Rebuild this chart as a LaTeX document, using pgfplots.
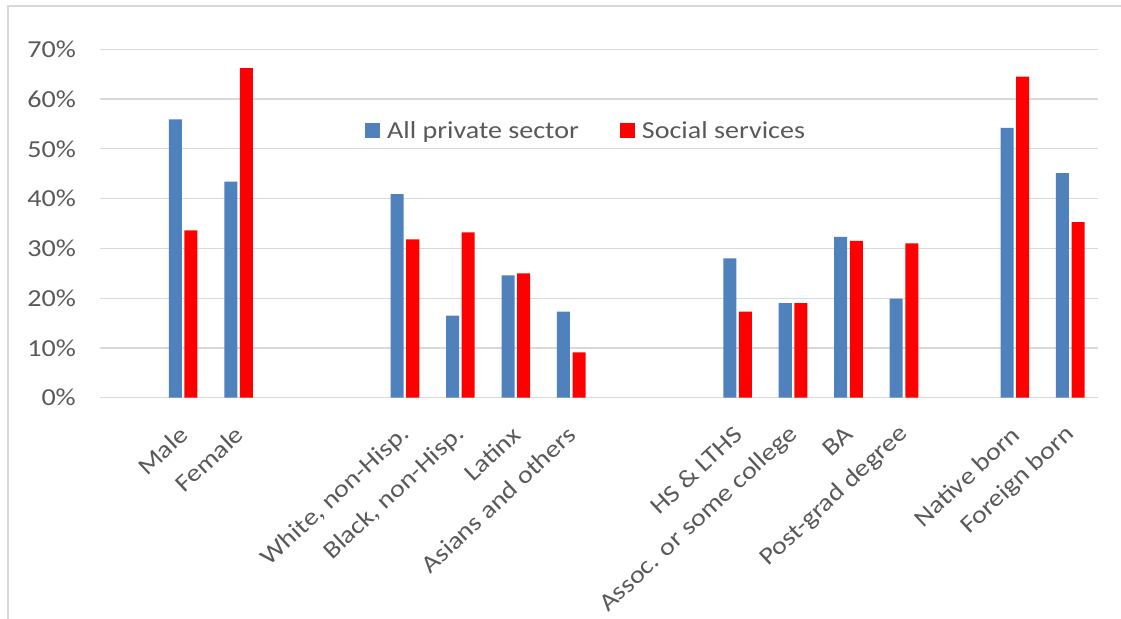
\documentclass[border=0pt]{standalone}
\usepackage{fontspec}
\setmainfont{Carlito}[FakeStretch=1.15]
\usepackage{pgfplots}
\pgfplotsset{compat=1.18}
\definecolor{cblue}{HTML}{4F81BD}
\definecolor{cred}{HTML}{FF0000}
\definecolor{ctext}{HTML}{595959}
\definecolor{cgrid}{HTML}{D9D9D9}
\newcommand{\cfont}{\fontsize{24.4bp}{29bp}\selectfont}
\begin{document}
\begin{tikzpicture}
\path[use as bounding box] (0bp,0bp) rectangle (1121bp,619bp);
\draw[color=cgrid, line width=2bp] (8bp,-5bp) -- (8bp,613bp) -- (1130bp,613bp);
\begin{axis}[
  at={(100bp,221.3bp)}, anchor=south west,
  scale only axis, width=998bp, height=348.4bp,
  ymin=0, ymax=70, xmin=-1.5, xmax=16.5,
  ybar, bar width=0.235,
  axis line style={draw=none},
  major tick length=0pt,
  ymajorgrids, grid style={cgrid, line width=1.2bp},
  ytick={0,10,...,70},
  /pgf/number format/assume math mode=true,
  yticklabel={\pgfmathprintnumber{\tick}\%},
  yticklabel style={inner sep=0pt, xshift=-24bp},
  xtick={0,1,4,5,6,7,10,11,12,13,15,16},
  xticklabels={Male, Female, {White, non-Hisp.}, {Black, non-Hisp.}, Latinx, Asians and others, HS \& LTHS, Assoc. or some college, BA, Post-grad degree, Native born, Foreign born},
  xticklabel style={xshift=1bp, yshift=-33bp, rotate=43, anchor=east, inner sep=0pt},
  tick label style={font=\cfont, text=ctext},
  legend style={at={(0.2655,0.766)}, anchor=west, draw=none, fill=none,
    font=\cfont, text=ctext, inner sep=0pt,
    /tikz/every odd column/.append style={column sep=5bp},
    /tikz/every even column/.append style={column sep=39bp}},
  legend columns=2,
  legend cell align=left,
  legend image code/.code={\fill[#1] (0bp,-7.5bp) rectangle (15bp,7.5bp);},
]
\addplot[fill=cblue, draw=none, bar shift=-0.141] coordinates {
 (0,55.9) (1,43.4) (4,40.9) (5,16.5) (6,24.6) (7,17.3)
 (10,28.0) (11,19.0) (12,32.3) (13,19.9) (15,54.2) (16,45.1)};
\addplot[fill=cred, draw=none, bar shift=0.141] coordinates {
 (0,33.6) (1,66.2) (4,31.8) (5,33.2) (6,25.0) (7,9.1)
 (10,17.3) (11,19.0) (12,31.5) (13,31.0) (15,64.5) (16,35.3)};
\legend{All private sector, Social services}
\end{axis}
\end{tikzpicture}
\end{document}
